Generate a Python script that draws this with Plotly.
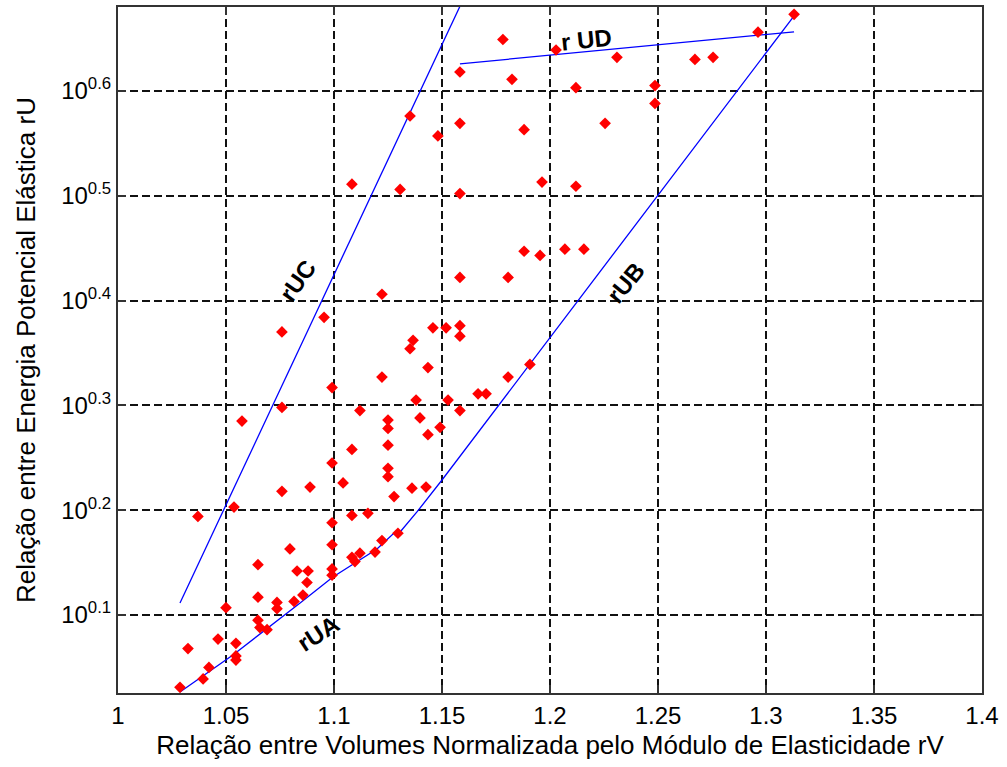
import plotly.graph_objects as go

# ---- data (x = rV, exponent e where rU = 10**e) ----
rV = [1.0287, 1.0324, 1.0394, 1.0421, 1.0463, 1.0500, 1.0546, 1.0546, 1.0546, 1.0370,
      1.0537, 1.0574, 1.0648, 1.0648, 1.0648, 1.0657, 1.0690, 1.0736, 1.0736, 1.0759,
      1.0759, 1.0759, 1.0796, 1.0815, 1.0856, 1.0829, 1.0880, 1.0875, 1.0889, 1.0954,
      1.0991, 1.0991, 1.0991, 1.0991, 1.0991, 1.0991, 1.1042, 1.1083, 1.1083, 1.1083,
      1.1083, 1.1097, 1.1120, 1.1120, 1.1157, 1.1190, 1.1222, 1.1222, 1.1222, 1.1250,
      1.1250, 1.1250, 1.1250, 1.1250, 1.1278, 1.1296, 1.1306, 1.1352, 1.1352, 1.1366,
      1.1380, 1.1398, 1.1361, 1.1426, 1.1435, 1.1435, 1.1458, 1.1481, 1.1491, 1.1519,
      1.1528, 1.1583, 1.1583, 1.1583, 1.1583, 1.1583, 1.1583, 1.1583, 1.1667, 1.1704,
      1.1782, 1.1806, 1.1806, 1.1824, 1.1880, 1.1880, 1.1907, 1.1954, 1.1963, 1.2028,
      1.2069, 1.2120, 1.2120, 1.2157, 1.2255, 1.2310, 1.2486, 1.2486, 1.2671, 1.2755,
      1.2963, 1.3130]
rU_exp = [0.031, 0.068, 0.039, 0.050, 0.077, 0.107, 0.073, 0.061, 0.057, 0.194,
          0.203, 0.285, 0.148, 0.117, 0.095, 0.088, 0.086, 0.112, 0.106, 0.218,
          0.298, 0.370, 0.163, 0.113, 0.119, 0.142, 0.142, 0.131, 0.222, 0.384,
          0.317, 0.245, 0.188, 0.167, 0.144, 0.138, 0.226, 0.258, 0.511, 0.195,
          0.155, 0.151, 0.159, 0.295, 0.197, 0.160, 0.327, 0.406, 0.171, 0.286,
          0.278, 0.262, 0.240, 0.232, 0.213, 0.178, 0.506, 0.576, 0.354, 0.362,
          0.305, 0.288, 0.221, 0.222, 0.336, 0.272, 0.374, 0.557, 0.279, 0.374,
          0.305, 0.618, 0.569, 0.502, 0.422, 0.376, 0.366, 0.295, 0.311, 0.311,
          0.649, 0.422, 0.327, 0.611, 0.563, 0.447, 0.339, 0.443, 0.513, 0.639,
          0.449, 0.603, 0.509, 0.449, 0.569, 0.632, 0.605, 0.588, 0.630, 0.632,
          0.656, 0.673]

# boundary curves (rV, exponent of rU)
rUA_x = [1.0287, 1.0532, 1.0843, 1.0995, 1.1199, 1.1273, 1.1306]
rUA_e = [0.0265, 0.0618, 0.1115, 0.1363, 0.1630, 0.1773, 0.1792]
rUB_x = [1.1306, 1.1384, 1.1500, 1.3130]
rUB_e = [0.1792, 0.1983, 0.2288, 0.6716]
rUC_x = [1.0287, 1.1597]
rUC_e = [0.1115, 0.6868]
rUD_x = [1.1583, 1.3130]
rUD_e = [0.6258, 0.6563]

labels = ["rUA", "rUB", "rUC", "r UD"]
label_x = [1.0926, 1.2352, 1.0833, 1.2171]
label_e = [0.0828, 0.4168, 0.4187, 0.6487]
label_angle = [-33, -51, -55, -6]

x_ticks = [1, 1.05, 1.1, 1.15, 1.2, 1.25, 1.3, 1.35, 1.4]
x_ticktext = ["1", "1.05", "1.1", "1.15", "1.2", "1.25", "1.3", "1.35", "1.4"]
y_tick_exp = [0.1, 0.2, 0.3, 0.4, 0.5, 0.6]
y_ticktext = ["10<sup>0.1</sup>", "10<sup>0.2</sup>", "10<sup>0.3</sup>",
              "10<sup>0.4</sup>", "10<sup>0.5</sup>", "10<sup>0.6</sup>"]

def p(e):
    return [10 ** v for v in e]

FONT = "Liberation Sans, Arial, sans-serif"
fig = go.Figure()
line_style = dict(color="#0000ff", width=1.3)
for xs, es in [(rUA_x, rUA_e), (rUB_x, rUB_e), (rUC_x, rUC_e), (rUD_x, rUD_e)]:
    fig.add_trace(go.Scatter(x=xs, y=p(es), mode="lines", line=line_style,
                             showlegend=False, hoverinfo="skip"))
fig.add_trace(go.Scatter(x=rV, y=p(rU_exp), mode="markers",
                         marker=dict(symbol="diamond", size=9, color="#ff0000",
                                     line=dict(width=0)),
                         showlegend=False))

for t, lx, le, a in zip(labels, label_x, label_e, label_angle):
    fig.add_annotation(x=lx, y=le, text="<b>" + t + "</b>", showarrow=False, textangle=a,
                       font=dict(family=FONT, size=24, color="black"))

axis_common = dict(showline=True, linecolor="#333333", linewidth=2, mirror="ticks",
                   ticks="inside", ticklen=8, tickcolor="#333333", tickwidth=1.5,
                   showgrid=True, gridcolor="#111111", gridwidth=1.6,
                   griddash="8px,4px", zeroline=False, automargin=False,
                   tickfont=dict(family=FONT, size=24, color="black"))
fig.update_xaxes(range=[1, 1.4], tickvals=x_ticks, ticktext=x_ticktext,
                 title=dict(text="Relação entre Volumes Normalizada pelo Módulo de Elasticidade rV",
                            font=dict(family=FONT, size=26, color="black"), standoff=8),
                 **axis_common)
fig.update_yaxes(type="log", range=[0.0256, 0.680], tickvals=p(y_tick_exp),
                 ticktext=y_ticktext,
                 title=dict(text="Relação entre Energia Potencial Elástica rU",
                            font=dict(family=FONT, size=26, color="black"), standoff=18),
                 **axis_common)
fig.update_layout(width=1007, height=767, margin=dict(l=118, r=25, t=7, b=74),
                  plot_bgcolor="white", paper_bgcolor="white",
                  font=dict(family=FONT, color="black"))
fig.write_html("out.html")
